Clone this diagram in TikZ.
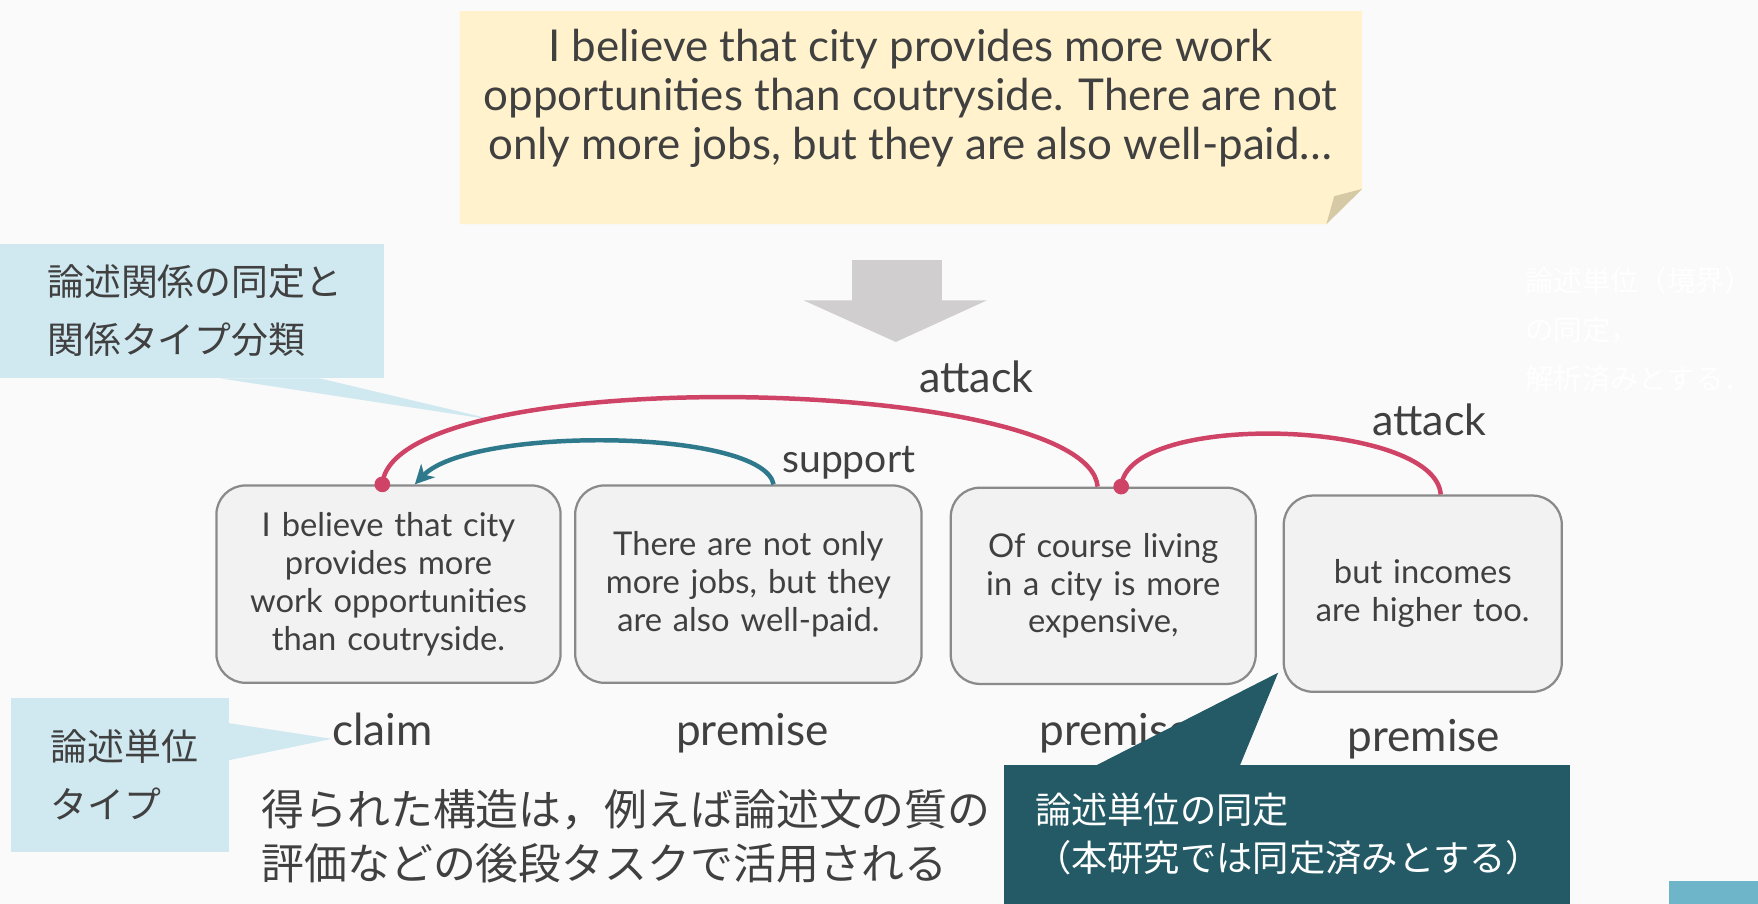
\documentclass[tikz,border=0pt]{standalone}
\usepackage{fontspec}
\setmainfont{Lato}
\newfontfamily\jp{Noto Sans CJK JP}
\usetikzlibrary{arrows.meta,calc}
\definecolor{bgc}{HTML}{FAFAFA}
\definecolor{notec}{HTML}{FFF2CC}
\definecolor{foldc}{HTML}{D5C9A6}
\definecolor{arrowc}{HTML}{D0CECF}
\definecolor{lightc}{HTML}{D0E8F0}
\definecolor{darkc}{HTML}{245A66}
\definecolor{attackc}{HTML}{CF4466}
\definecolor{supportc}{HTML}{2E7A8C}
\definecolor{boxfill}{HTML}{F2F2F2}
\definecolor{boxline}{HTML}{8A8A8A}
\definecolor{cornerc}{HTML}{6FB5CA}
\definecolor{txt}{HTML}{404040}
\tikzset{
  unitbox/.style={draw=boxline, line width=2bp, fill=boxfill, rounded corners=26bp,
    align=center, inner sep=0pt, text=txt, font=\fontsize{29.3}{33.8}\selectfont},
  typelab/.style={anchor=base, text=txt, inner sep=0pt, font=\fontsize{39.5}{44}\selectfont},
  rellab/.style={anchor=base, text=txt, inner sep=0pt},
  lightcallout/.style={fill=lightc, anchor=north west, align=left, text=txt, inner ysep=0pt},
  attackline/.style={draw=attackc, line width=4bp},
  supportline/.style={draw=supportc, line width=4bp, -{Stealth[length=17bp,width=17bp,inset=5bp]}},
}
\begin{document}
\begin{tikzpicture}[x=1bp,y=-1bp]
\useasboundingbox (0,0) rectangle (1568,806);
\fill[bgc] (0,0) rectangle (1568,806);

% faint white text at right
\node[anchor=west, align=left, text=white, inner sep=0pt,
  font=\jp\fontsize{25.5}{44}\selectfont] (wt) at (1360,294)
  {論述単位（境界）\\の同定，\\解析済みとする．};

% sticky note
\fill[notec] (410,10) -- (1215,10) -- (1215,168.5) -- (1183,200) -- (410,200) -- cycle;
\fill[foldc] (1183,200) -- (1215,168.5) -- (1190,175) -- cycle;
\node[align=center, text=txt, inner sep=0pt, font=\fontsize{39.3}{44}\selectfont] (note) at (812,88)
  {I believe that city provides more work\\opportunities than coutryside. There are not\\only more jobs, but they are also well-paid…};

% block arrow
\fill[arrowc] (760,232) -- (840,232) -- (840,268) -- (880,268) -- (799,305) -- (717,268) -- (760,268) -- cycle;

% callouts (light)
\node[lightcallout, minimum width=342bp, minimum height=120bp, text width=258bp, inner xsep=42bp,
  font=\jp\fontsize{33}{52}\selectfont] (tl) at (0,217) {論述関係の同定と\\関係タイプ分類};
\coordinate (tltip) at (443,375);
\fill[lightc] ($(tl.south west)+(196,0)$) -- ($(tl.south west)+(285,0)$) -- (tltip) -- cycle;

\node[lightcallout, minimum width=194bp, minimum height=138bp, text width=124bp, inner xsep=35bp,
  font=\jp\fontsize{33}{52}\selectfont] (bl) at (10,622) {論述単位\\タイプ};
\coordinate (bltip) at (296,659);
\fill[lightc] ($(bl.north east)+(0,23)$) -- ($(bl.north east)+(0,56)$) -- (bltip) -- cycle;

% unit boxes
\node[unitbox, minimum width=307bp, minimum height=176bp, text width=290bp] (b1) at (346.5,521)
  {I believe that city\\provides more\\work opportunities\\than coutryside.};
\node[unitbox, minimum width=309bp, minimum height=176bp, text width=290bp] (b2) at (667.5,521)
  {There are not only\\more jobs, but they\\are also well-paid.};
\node[unitbox, minimum width=272bp, minimum height=175bp, text width=255bp] (b3) at (984,522.5)
  {Of course living\\in a city is more\\expensive,};
\node[unitbox, minimum width=248bp, minimum height=175bp, text width=230bp] (b4) at (1269,529.5)
  {but incomes\\are higher too.};

% type labels
\node[typelab] (t1) at (341,665) {claim};
\node[typelab] (t2) at (671,665) {premise};
\node[typelab] (t3) at (995,665) {premise};
\node[typelab] (t4) at (1270,670) {premise};

% relations
\coordinate (a1s) at ([xshift=-5bp]b3.north);
\coordinate (a1e) at ([xshift=-5.5bp]b1.north);
\coordinate (ss) at ([xshift=22.5bp]b2.north);
\coordinate (se) at ([xshift=23.5bp]b1.north);
\coordinate (a2s) at ([xshift=16bp]b4.north);
\coordinate (a2e) at ([xshift=16bp]b3.north);

\draw[attackline] (a1s) .. controls +(-9,-100) and +(9,-110) .. (a1e);
\fill[attackc] (a1e) circle (7bp);
\draw[supportline] (ss) .. controls +(-10,-50) and +(50,-52) .. (se);
\draw[attackline] (a2s) .. controls +(-5,-67) and +(5,-68) .. (a2e);
\fill[attackc] (a2e) circle (7bp);

\node[rellab, font=\fontsize{38.5}{44}\selectfont] (la1) at (871,350) {attack};
\node[rellab, font=\fontsize{35}{40}\selectfont] (ls) at (757,421) {support};
\node[rellab, font=\fontsize{38.5}{44}\selectfont] (la2) at (1275,388) {attack};

% bottom text
\node[anchor=west, align=left, text=txt, inner sep=0pt, font=\jp\fontsize{38.4}{48}\selectfont] (bt) at (233,746)
  {得られた構造は，例えば論述文の質の\\評価などの後段タスクで活用される};

% dark callout
\node[fill=darkc, anchor=north west, minimum width=505bp, minimum height=124bp, text width=449bp,
  inner xsep=28bp, inner ysep=0pt, align=left, text=white, font=\jp\fontsize{32.5}{43}\selectfont] (dk) at (895,682)
  {論述単位の同定\\（本研究では同定済みとする）};
\coordinate (dktip) at (1140,600);
\fill[darkc] ($(dk.north west)+(83,0.5)$) -- ($(dk.north west)+(211,0.5)$) -- (dktip) -- cycle;

% corner rectangle
\fill[cornerc] (1489,786) rectangle (1568,806);
\end{tikzpicture}
\end{document}
